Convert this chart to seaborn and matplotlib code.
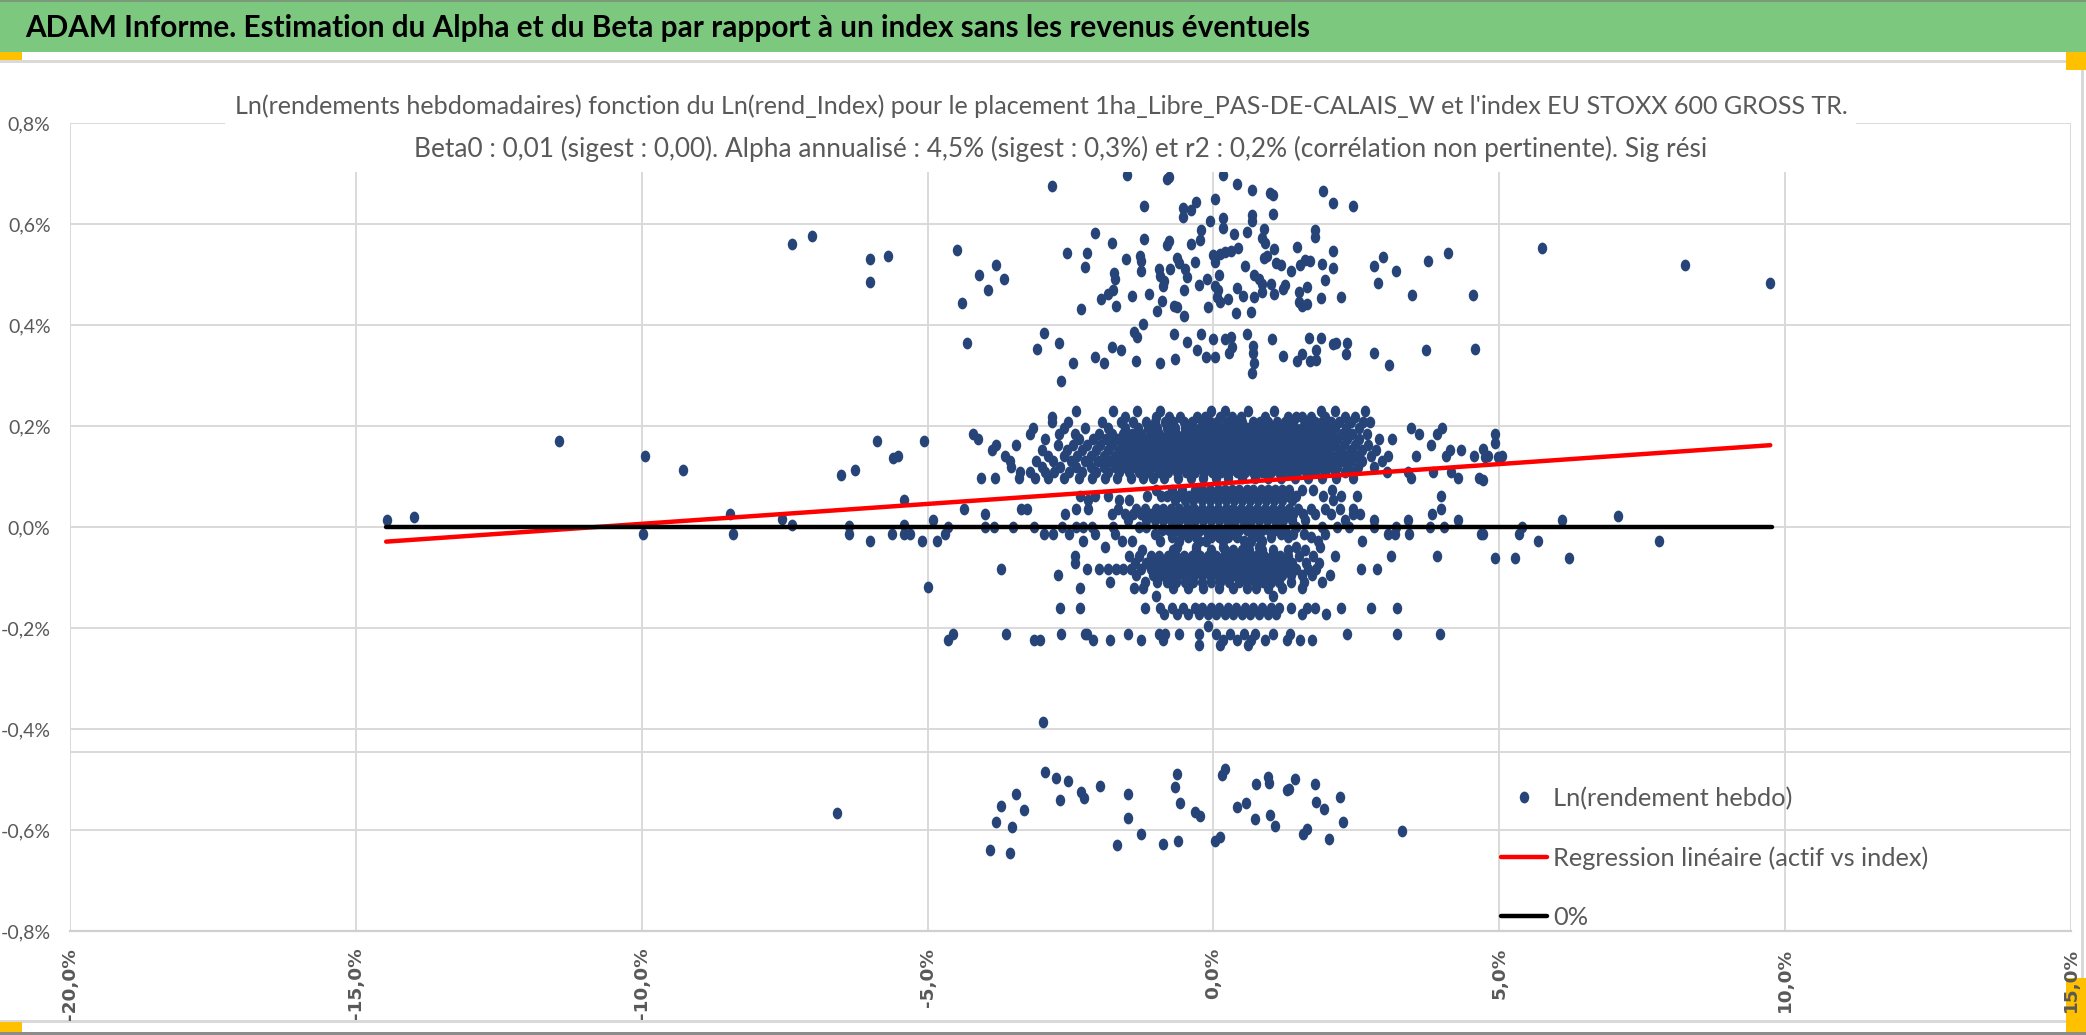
import numpy as np
import pandas as pd
import seaborn as sns
import matplotlib.pyplot as plt
from matplotlib.path import Path
from matplotlib.patches import Rectangle
from matplotlib.lines import Line2D

W, H = 2086, 1035

# ---- data (weekly log returns, in %) ----
# sparse points of the upper bands
up_x = [-1.52, -2.82, -0.82, -0.78, 0.17, 0.42, 0.67, 0.99, 1.04, 1.91,
        2.09, 2.44, -1.22, 0.03, -0.53, -0.39, -0.31, -0.53, 0.68, 0.68,
        1.04, 0.17, 0.17, -0.06, -0.21, 0.36, 0.59, 0.88, 1.77, 1.77,
        -2.08, -1.78, -1.21, -0.82, -0.78, -0.4, -0.24, 0.85, 0.91, 1.06,
        1.46, 2.09, -2.56, -2.22, -2.25, -1.29, -1.27, -1.53, -0.64, -0.6,
        -0.32, -0.01, 0.11, 0.2, 0.3, 0.43, 0.02, 0.88, 0.94, 1.09,
        1.18, 1.61, 1.69, 1.52, 1.9, 2.1, 2.8, 2.96, 3.76, 4.11,
        -4.49, -4.1, -3.8, -3.66, -3.94, -4.4, -1.27, -1.74, -1.73, -0.96,
        -0.93, -0.87, -0.76, -0.88, -0.5, -0.47, -0.12, 0.1, 0.55, 0.71,
        0.79, 0.85, 1.01, 1.35, 1.96, 2.87, 3.19, -0.52, -0.26, 0.02,
        0.08, 0.42, 0.51, 0.71, 0.85, 1.06, 1.21, 1.26, 1.49, 1.64,
        -1.76, -1.85, -1.96, -1.43, -1.13, -0.9, -0.69, -0.63, -0.52, -0.98,
        -1.71, -2.31, -0.09, 0.06, 0.12, 0.26, 0.4, 0.66, 1.49, 1.55,
        1.64, 1.89, 2.24, 3.48, 4.54]
up_y = [0.697, 0.675, 0.69, 0.694, 0.697, 0.68, 0.667, 0.662, 0.657, 0.666,
        0.641, 0.636, 0.636, 0.649, 0.632, 0.628, 0.644, 0.613, 0.618, 0.605,
        0.619, 0.611, 0.593, 0.605, 0.588, 0.581, 0.585, 0.591, 0.589, 0.574,
        0.583, 0.562, 0.57, 0.558, 0.567, 0.56, 0.568, 0.572, 0.562, 0.55,
        0.555, 0.547, 0.542, 0.542, 0.514, 0.537, 0.526, 0.53, 0.532, 0.522,
        0.525, 0.538, 0.54, 0.545, 0.547, 0.552, 0.525, 0.532, 0.537, 0.522,
        0.519, 0.529, 0.526, 0.519, 0.521, 0.512, 0.517, 0.534, 0.527, 0.542,
        0.548, 0.5, 0.519, 0.492, 0.469, 0.444, 0.506, 0.502, 0.492, 0.51,
        0.497, 0.487, 0.51, 0.477, 0.51, 0.495, 0.492, 0.5, 0.516, 0.499,
        0.492, 0.482, 0.482, 0.506, 0.49, 0.484, 0.506, 0.47, 0.479, 0.477,
        0.469, 0.473, 0.458, 0.456, 0.466, 0.462, 0.472, 0.479, 0.466, 0.476,
        0.47, 0.462, 0.451, 0.457, 0.462, 0.448, 0.438, 0.435, 0.418, 0.428,
        0.438, 0.432, 0.436, 0.456, 0.446, 0.451, 0.423, 0.426, 0.446, 0.438,
        0.442, 0.454, 0.455, 0.459, 0.459]

mid_x = [-4.31, -2.97, -3.08, -2.7, -2.45, -2.67, -2.08, -1.91, -1.78, -1.62,
         -1.39, -1.33, -1.23, -1.35, -0.94, -0.67, -0.69, -0.46, -0.29, -0.21,
         -0.13, 0.02, -0.01, 0.2, 0.3, 0.33, 0.28, 0.59, 0.69, 0.69,
         0.71, 0.68, 1.02, 1.22, 1.46, 1.55, 1.69, 1.8, 1.67, 1.88,
         1.8, 2.1, 2.15, 2.33, 2.32, 2.81, 3.07, 3.72, 4.57]
mid_y = [0.364, 0.385, 0.353, 0.365, 0.325, 0.289, 0.336, 0.324, 0.356, 0.35,
         0.387, 0.376, 0.402, 0.329, 0.324, 0.332, 0.382, 0.367, 0.35, 0.383,
         0.336, 0.336, 0.373, 0.372, 0.377, 0.357, 0.345, 0.382, 0.358, 0.344,
         0.324, 0.305, 0.372, 0.339, 0.328, 0.342, 0.329, 0.33, 0.375, 0.374,
         0.35, 0.363, 0.365, 0.365, 0.342, 0.345, 0.32, 0.351, 0.353]

# isolated points far from the core
out_x = [-14.45, -13.99, -11.45, -7.37, -7.02, -6.0, -5.69, -6.0, -9.94, -9.27,
         -9.98, -8.46, -8.41, -7.55, -7.38, -6.51, -6.27, -5.89, -5.61, -5.52,
         -5.07, -5.42, -6.38, -6.37, -6.0, -5.63, -5.41, -5.41, -5.31, -5.09,
         -4.9, -4.84, -4.7, -4.65, -4.99, -4.64, 5.74, 8.24, 9.74, 4.92,
         4.92, 4.75, 4.97, 4.72, 4.72, 4.72, 5.34, 5.4, 5.68, 6.09,
         7.07, 7.79, 4.93, 5.27, 6.22, -2.98, -6.59]
out_y = [0.014, 0.02, 0.17, 0.56, 0.576, 0.531, 0.537, 0.485, 0.14, 0.113,
         -0.014, 0.026, -0.014, 0.015, 0.004, 0.102, 0.113, 0.17, 0.136, 0.141,
         0.17, 0.053, 0.001, -0.014, -0.028, -0.014, 0.004, -0.014, -0.014, -0.028,
         0.014, -0.028, -0.014, 0.0, -0.119, -0.224, 0.553, 0.519, 0.483, 0.184,
         0.167, 0.138, 0.138, 0.155, 0.093, -0.014, -0.014, 0.0, -0.028, 0.014,
         0.022, -0.028, -0.062, -0.062, -0.062, -0.386, -0.566]

# lower cluster around -0.5 / -0.65
low_x = [-2.95, -2.75, -2.55, -2.31, -2.27, -2.68, -1.98, -1.49, -1.5, -1.27,
         -1.69, -0.89, -0.62, -0.64, -0.68, -0.58, -0.33, -0.23, 0.02, 0.12,
         0.15, 0.21, 0.41, 0.57, 0.74, 0.72, 0.96, 0.97, 0.99, 1.07,
         1.28, 1.33, 1.43, 1.78, 1.8, 1.94, 2.22, 2.26, 1.56, 1.64,
         2.03, 3.29, -3.9, -3.8, -3.72, -3.52, -3.56, -3.45, -3.32]
low_y = [-0.486, -0.497, -0.503, -0.524, -0.537, -0.54, -0.513, -0.529, -0.577, -0.607,
         -0.63, -0.628, -0.622, -0.49, -0.515, -0.546, -0.564, -0.572, -0.622, -0.613,
         -0.492, -0.479, -0.554, -0.547, -0.508, -0.579, -0.495, -0.506, -0.57, -0.592,
         -0.521, -0.518, -0.499, -0.509, -0.544, -0.559, -0.535, -0.585, -0.608, -0.599,
         -0.617, -0.601, -0.64, -0.585, -0.552, -0.595, -0.645, -0.529, -0.56]

# dense band 0.10 - 0.23 : one list of index returns per return level
band_a_levels = [0.229, 0.218, 0.207, 0.196, 0.185, 0.174, 0.163, 0.152, 0.141,
                 0.130, 0.119, 0.108, 0.098]
band_a_rows = [
    [-2.4, -1.76, -1.33, -0.93, -0.04, 0.2, 0.6, 1.06, 1.88, 2.13, 2.65],
    [-2.83, -1.55, -1.0, -0.78, -0.58, -0.29, -0.14, 0.11, 0.33, 0.48, 0.9, 1.31, 1.44,
     1.55, 1.71, 1.95, 2.3, 2.48],
    [-2.82, -2.55, -1.95, -1.62, -1.4, -1.18, -1.02, -0.85, -0.7, -0.52, -0.38, -0.2,
     -0.06, 0.07, 0.24, 0.38, 0.5, 0.7, 0.82, 0.96, 1.12, 1.26, 1.4, 1.6, 1.78, 1.9,
     2.05, 2.2, 2.4, 2.62, 2.74],
    [-3.15, -2.62, -2.25, -1.85, -1.55, -1.32, -1.15, -0.98, -0.82, -0.67, -0.5, -0.36,
     -0.24, -0.1, 0.03, 0.16, 0.3, 0.44, 0.58, 0.72, 0.86, 1.0, 1.14, 1.28, 1.42, 1.55,
     1.7, 1.84, 1.98, 2.12, 2.32, 2.55, 3.45, 4.0],
    [-4.2, -3.2, -2.7, -2.42, -2.0, -1.78, -1.58, -1.42, -1.26, -1.1, -0.95, -0.8, -0.66,
     -0.52, -0.4, -0.27, -0.13, 0.0, 0.12, 0.26, 0.39, 0.52, 0.66, 0.8, 0.94, 1.08, 1.22,
     1.36, 1.5, 1.63, 1.77, 1.92, 2.07, 2.25, 2.42, 2.68, 3.6, 3.91],
    [-4.12, -2.95, -2.35, -2.1, -1.88, -1.68, -1.5, -1.34, -1.19, -1.04, -0.9, -0.76,
     -0.62, -0.48, -0.34, -0.2, -0.06, 0.07, 0.2, 0.34, 0.47, 0.6, 0.74, 0.88, 1.02, 1.16,
     1.3, 1.44, 1.58, 1.72, 1.86, 2.0, 2.16, 2.34, 2.55, 2.9, 3.12],
    [-3.8, -3.46, -2.72, -2.46, -2.22, -1.98, -1.77, -1.58, -1.42, -1.27, -1.12, -0.97,
     -0.83, -0.69, -0.55, -0.41, -0.27, -0.13, 0.0, 0.14, 0.28, 0.41, 0.55, 0.68, 0.82,
     0.96, 1.1, 1.24, 1.38, 1.52, 1.66, 1.8, 1.95, 2.1, 2.28, 2.47, 2.7, 3.8],
    [-3.88, -3.0, -2.56, -2.3, -2.05, -1.84, -1.65, -1.48, -1.32, -1.17, -1.02, -0.88,
     -0.74, -0.6, -0.46, -0.32, -0.18, -0.05, 0.08, 0.21, 0.35, 0.48, 0.62, 0.75, 0.89,
     1.03, 1.17, 1.31, 1.45, 1.59, 1.73, 1.88, 2.03, 2.2, 2.4, 2.6, 2.85, 4.13, 4.33],
    [-3.65, -2.9, -2.62, -2.38, -2.15, -1.92, -1.72, -1.55, -1.38, -1.22, -1.07, -0.93,
     -0.79, -0.65, -0.51, -0.37, -0.23, -0.1, 0.03, 0.17, 0.3, 0.44, 0.57, 0.71, 0.85,
     0.99, 1.13, 1.27, 1.41, 1.55, 1.69, 1.83, 1.98, 2.14, 2.3, 2.5, 2.75, 3.06, 3.55,
     4.07, 4.56, 4.8, 5.05],
    [-3.55, -3.1, -2.8, -2.5, -2.25, -2.02, -1.82, -1.62, -1.46, -1.3, -1.14, -1.0, -0.86,
     -0.72, -0.58, -0.44, -0.3, -0.16, -0.02, 0.12, 0.25, 0.38, 0.52, 0.65, 0.79, 0.93,
     1.07, 1.21, 1.35, 1.49, 1.63, 1.77, 1.92, 2.07, 2.23, 2.4, 2.6, 2.95],
    [-3.54, -3.0, -2.68, -2.4, -2.14, -1.92, -1.72, -1.54, -1.38, -1.22, -1.07, -0.93,
     -0.79, -0.65, -0.51, -0.37, -0.24, -0.1, 0.04, 0.18, 0.31, 0.45, 0.58, 0.72, 0.86,
     1.0, 1.14, 1.28, 1.42, 1.56, 1.7, 1.85, 2.0, 2.16, 2.34, 2.52, 2.8],
    [-3.39, -3.2, -2.95, -2.78, -2.52, -2.3, -2.05, -1.85, -1.66, -1.48, -1.3, -1.12,
     -0.96, -0.8, -0.64, -0.48, -0.32, -0.17, -0.02, 0.13, 0.27, 0.41, 0.56, 0.7, 0.85,
     1.0, 1.15, 1.3, 1.46, 1.62, 1.78, 1.95, 2.12, 2.3, 2.45, 3.04, 3.4, 3.84, 4.16],
    [-4.07, -3.82, -3.4, -3.12, -2.9, -2.62, -2.35, -2.12, -1.9, -1.68, -1.45, -1.24,
     -1.05, -0.86, -0.62, -0.4, -0.18, 0.04, 0.26, 0.5, 0.72, 0.95, 1.18, 1.42, 1.66,
     1.9, 2.15, 2.45, 3.45, 4.28, 4.65],
]

# band 0.05 - 0.08
band_b_levels = [0.073, 0.062, 0.054]
band_b_rows = [
    [-1.0, -0.72, -0.55, -0.32, -0.2, -0.06, 0.08, 0.2, 0.33, 0.45, 0.58, 0.7, 0.83,
     0.95, 1.08, 1.2, 1.33, 1.55, 1.75, 2.08],
    [-2.34, -2.08, -1.84, -1.16, -0.92, -0.82, -0.62, -0.42, -0.28, -0.14, 0.0, 0.13,
     0.26, 0.39, 0.52, 0.64, 0.77, 0.9, 1.02, 1.15, 1.3, 1.45, 1.92, 2.23, 2.51, 3.98],
    [-2.2, -1.66, -1.48, -0.68, -0.5, -0.35, -0.2, -0.06, 0.08, 0.22, 0.36, 0.5, 0.64,
     0.78, 0.92, 1.06, 1.2, 1.38, 2.1],
]

# band around 0
band_c_levels = [0.036, 0.025, 0.014, 0.0, -0.005, -0.014, -0.02, -0.028, -0.039]
band_c_rows = [
    [-4.37, -3.37, -3.26, -2.4, -2.2, -1.67, -1.35, -1.2, -1.0, -0.88, -0.75, -0.6,
     -0.47, -0.34, -0.2, -0.06, 0.08, 0.22, 0.35, 0.49, 0.62, 0.76, 0.9, 1.04, 1.18,
     1.32, 1.48, 1.7, 1.95, 2.22, 2.45, 3.98],
    [-4.0, -2.6, -1.78, -1.55, -1.4, -1.26, -1.1, -0.95, -0.81, -0.67, -0.53, -0.4,
     -0.26, -0.12, 0.02, 0.15, 0.29, 0.42, 0.56, 0.7, 0.84, 0.98, 1.12, 1.26, 1.4, 1.56,
     1.78, 2.05, 2.44, 2.56, 3.82],
    [-1.5, -1.18, -1.03, -0.88, -0.74, -0.6, -0.46, -0.32, -0.18, -0.04, 0.1, 0.24,
     0.37, 0.51, 0.65, 0.79, 0.93, 1.07, 1.21, 1.38, 1.6, 2.3, 2.8, 3.4, 4.28],
    [-4.0, -3.83, -3.51, -3.14, -2.65, -2.4, -2.28, -2.12, -1.76, -1.3, -1.18, -0.7,
     -0.45, 0.3, 0.6, 1.1, 1.45, 1.9, 2.17, 2.38, 2.81, 3.2, 3.79, 4.04],
    [-0.9, -0.78, -0.62, -0.5, -0.38, -0.24, -0.1, 0.05, 0.18, 0.3, 0.45, 0.58, 0.72,
     0.85, 0.98, 1.12, 1.25],
    [-2.97, -2.8, -2.53, -2.07, -1.73, -1.02, -0.55, -0.1, 0.02, 0.36, 1.18, 1.4, 1.58,
     1.95, 3.06, 3.18, 3.42, 4.68],
    [-0.72, -0.45, -0.3, -0.05, 0.1, 0.25, 0.42, 0.68, 0.8, 1.0, 1.3, 1.7],
    [-2.29, -1.6, -1.42, -0.93, -0.6, -0.26, -0.13, 0.17, 0.54, 0.66, 0.85, 1.83, 2.6],
    [-1.9, -0.63, -0.3, 0.17, 0.6, 0.8, 1.45, 1.86],
]

# band -0.04 / -0.14
band_d_levels = [-0.045, -0.058, -0.071, -0.083, -0.096, -0.109, -0.12, -0.137]
band_d_rows = [
    [-1.25, -0.7, -0.3, -0.05, 0.2, 0.35, 0.5, 0.62, 0.85, 1.05, 1.3, 1.6],
    [-2.42, -1.48, -1.3, -1.1, -0.95, -0.8, -0.66, -0.52, -0.38, -0.24, -0.1, 0.04,
     0.18, 0.32, 0.46, 0.6, 0.74, 0.88, 1.02, 1.16, 1.3, 1.5, 1.75, 2.13, 3.1, 3.91],
    [-2.42, -1.38, -1.18, -1.02, -0.88, -0.74, -0.6, -0.46, -0.32, -0.18, -0.04, 0.1,
     0.24, 0.38, 0.52, 0.66, 0.8, 0.94, 1.08, 1.22, 1.38, 1.62, 1.85],
    [-3.71, -2.21, -2.0, -1.85, -1.7, -1.58, -1.45, -1.27, -1.1, -0.95, -0.8, -0.66,
     -0.52, -0.38, -0.24, -0.1, 0.04, 0.18, 0.32, 0.46, 0.6, 0.74, 0.88, 1.02, 1.16, 1.3,
     1.45, 1.65, 1.8, 2.58, 2.86],
    [-2.72, -1.36, -1.05, -0.9, -0.76, -0.62, -0.48, -0.34, -0.2, -0.06, 0.08, 0.22,
     0.36, 0.5, 0.64, 0.78, 0.92, 1.06, 1.2, 1.35, 1.55, 1.72, 2.04],
    [-1.81, -1.2, -0.98, -0.82, -0.66, -0.5, -0.35, -0.2, -0.04, 0.12, 0.28, 0.44, 0.58,
     0.72, 0.86, 1.0, 1.15, 1.35, 1.58, 1.9],
    [-2.34, -1.39, -1.24, -0.7, -0.45, -0.18, 0.1, 0.35, 0.58, 0.75, 0.95, 1.2, 1.55],
    [-1.01, 1.05],
]

# bands -0.15 / -0.24
band_e_levels = [-0.16, -0.172, -0.196, -0.212, -0.224, -0.234]
band_e_rows = [
    [-2.69, -2.34, -1.19, -0.93, -0.72, -0.53, -0.32, -0.2, -0.05, 0.1, 0.25, 0.4, 0.55,
     0.7, 0.85, 1.0, 1.15, 1.35, 1.64, 1.77, 2.23, 2.75, 3.21],
    [-0.87, -0.63, -0.44, -0.26, -0.1, 0.04, 0.2, 0.34, 0.5, 0.64, 0.8, 0.95, 1.1, 1.55,
     1.97],
    [-0.09],
    [-4.55, -3.63, -2.67, -2.25, -2.22, -1.5, -0.96, -0.84, -0.6, -0.26, 0.05, 0.29,
     0.53, 0.72, 1.04, 1.34, 2.33, 3.21, 3.96],
    [-3.13, -3.03, -2.1, -1.81, -1.26, -0.89, 0.17, 0.42, 0.66, 0.91, 1.28, 1.52, 1.72],
    [-0.26, 0.12, 0.6],
]

# regression line and 0% reference
reg_x = [-14.47, 9.74]
reg_y = [-0.029, 0.162]
zero_x = [-14.47, 9.77]
zero_y = [0.0, 0.0]

x_ticks = [-20, -15, -10, -5, 0, 5, 10, 15]
y_ticks = [-0.8, -0.6, -0.4, -0.2, 0.0, 0.2, 0.4, 0.6, 0.8]

title = "ADAM Informe. Estimation du Alpha et du Beta par rapport à un index sans les revenus éventuels"
sub1 = ("Ln(rendements hebdomadaires) fonction du Ln(rend_Index) pour le placement "
        "1ha_Libre_PAS-DE-CALAIS_W et l'index EU STOXX 600 GROSS TR.")
sub2 = ("Beta0 : 0,01 (sigest : 0,00). Alpha annualisé : 4,5% (sigest : 0,3%) et r2 : "
        "0,2% (corrélation non pertinente). Sig rési")
legend_labels = ["Ln(rendement hebdo)", "Regression linéaire (actif vs index)", "0%"]

DOT = '#264478'
GREY_TXT = '#595959'
GRID = '#d9d9d9'


def rows_to_points(levels, rows):
    return [(x, y) for y, row in zip(levels, rows) for x in row]


points = list(zip(up_x, up_y)) + list(zip(mid_x, mid_y)) + list(zip(out_x, out_y))
points += list(zip(low_x, low_y))
points += rows_to_points(band_a_levels, band_a_rows)
points += rows_to_points(band_b_levels, band_b_rows)
points += rows_to_points(band_c_levels, band_c_rows)
points += rows_to_points(band_d_levels, band_d_rows)
points += rows_to_points(band_e_levels, band_e_rows)
df = pd.DataFrame(points, columns=['index_ret', 'asset_ret'])

sns.set_style('white')
plt.rcParams['font.family'] = ['Lato', 'DejaVu Sans']

fig = plt.figure(figsize=(W / 100, H / 100), dpi=100)
ax = fig.add_axes([70 / W, 1 - 931 / H, (2071 - 70) / W, (931 - 123) / H])

# slightly tall dots, like the stretched Excel export
circ = Path.unit_circle()
ellipse = Path(circ.vertices * np.array([0.8, 1.0]), circ.codes)

sns.scatterplot(data=df, x='index_ret', y='asset_ret', marker=ellipse, s=72,
                color=DOT, linewidth=0, ax=ax, legend=False, zorder=3)
sns.lineplot(x=reg_x, y=reg_y, color='#ff0000', lw=3.2, ax=ax, zorder=4, sort=False)
sns.lineplot(x=zero_x, y=zero_y, color='black', lw=3.2, ax=ax, zorder=4, sort=False)

ax.set_xlim(-20, 15)
ax.set_ylim(-0.8, 0.8)
ax.set_xlabel('')
ax.set_ylabel('')
ax.grid(True, color=GRID, lw=1.4)
ax.axhline(-0.445, color=GRID, lw=1.4, zorder=0)
ax.set_axisbelow(True)
for side in ['top', 'right', 'left']:
    ax.spines[side].set_visible(False)
ax.spines['bottom'].set_color('#cfcfcf')
ax.spines['bottom'].set_linewidth(1.6)


def pct(v):
    v = 0.0 if abs(v) < 1e-9 else v
    return f"{v:.1f}%".replace('.', ',')


ax.set_xticks(x_ticks)
ax.set_xticklabels([pct(v) for v in x_ticks], rotation=90, family='DejaVu Sans',
                   fontweight='bold', fontsize=13.3, color=GREY_TXT, va='top')
ax.set_yticks(y_ticks)
ax.set_yticklabels([pct(v) for v in y_ticks], fontsize=14, color=GREY_TXT)
ax.tick_params(axis='x', length=0, pad=12)
ax.tick_params(axis='y', length=0, pad=14)

handles = [Line2D([], [], ls='none', marker=ellipse, markersize=8.5, color=DOT, mew=0),
           Line2D([], [], color='#ff0000', lw=3.2),
           Line2D([], [], color='black', lw=3.2)]
F = 18.3
Fpx = F * 100 / 72
leg = ax.legend(handles, legend_labels, loc='upper left',
                bbox_to_anchor=(1501 / W, 1 - 787 / H), bbox_transform=fig.transFigure,
                frameon=False, prop={'family': 'Lato', 'size': F}, labelcolor=GREY_TXT,
                handlelength=46 / Fpx, handletextpad=6 / Fpx, labelspacing=1.41,
                borderpad=0, borderaxespad=0)


def fig_rect(x0, y0, x1, y1, color, z=1):
    fig.add_artist(Rectangle((x0 / W, 1 - y1 / H), (x1 - x0) / W, (y1 - y0) / H,
                             transform=fig.transFigure, facecolor=color,
                             edgecolor='none', zorder=z))


# banner and frame decorations of the exported sheet
fig_rect(0, 0, W, 2, '#7a9a7a')
fig_rect(0, 2, W, 52, '#7dc87f')
fig_rect(0, 60, W, 63, GRID)
fig_rect(0, 52, 22, 60, '#ffc000')
fig_rect(2066, 52, W, 70, '#ffc000')
fig_rect(2081, 70, 2084, 978, GRID, z=-1)
fig_rect(0, 1020, W, 1023, GRID, z=-1)
fig_rect(0, 1032, W, H, '#8c8c8c')
fig_rect(0, 1022, 22, 1032, '#ffc000', z=-1)
fig_rect(2066, 978, W, 1032, '#ffc000', z=-1)
# white box behind the chart title
fig_rect(225, 82, 1856, 172, 'white', z=1.5)

renderer = fig.canvas.get_renderer()


def fit_width(t, target):
    w = t.get_window_extent(renderer=renderer).width
    t.set_fontsize(t.get_fontsize() * target / w)


t0 = fig.text(25 / W, 1 - 28 / H, title, ha='left', va='center', fontsize=22,
              fontweight='bold', color='black', zorder=3)
fit_width(t0, 1282)
t1 = fig.text(1041 / W, 1 - 106 / H, sub1, ha='center', va='center', fontsize=15,
              color=GREY_TXT, zorder=3)
fit_width(t1, 1620)
t2 = fig.text(1061 / W, 1 - 149 / H, sub2, ha='center', va='center', fontsize=15,
              color=GREY_TXT, zorder=3)
fit_width(t2, 1297)

fig.savefig('out.png', dpi=100)
